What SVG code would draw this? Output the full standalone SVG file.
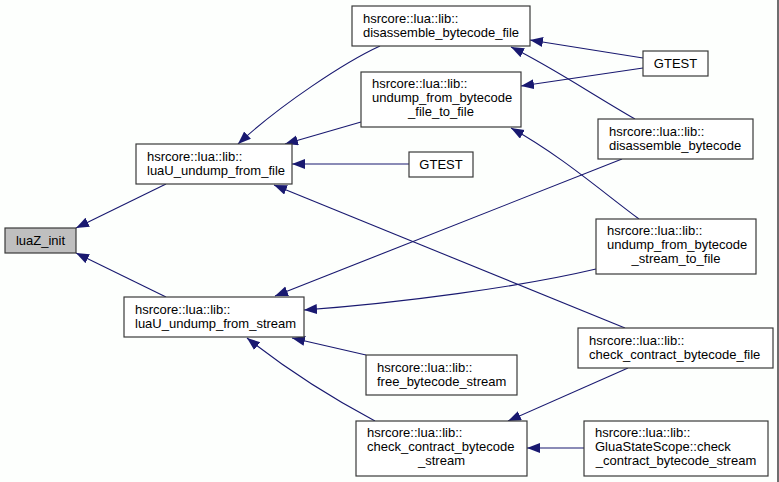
<svg xmlns="http://www.w3.org/2000/svg" width="779" height="482" viewBox="0 0 779 482">
<style>
.n rect{fill:#ffffff;stroke:#3a3a3a;stroke-width:1.2}
.n text{font-family:"Liberation Sans",Arial,sans-serif;font-size:13px;fill:#000}
.c{text-anchor:middle}
.e path{fill:none;stroke:#191970;stroke-width:1.1}
</style>
<defs>
<marker id="ah" markerUnits="userSpaceOnUse" markerWidth="14" markerHeight="11" refX="13" refY="5" orient="auto">
<path d="M0,0 L13,5 L0,10 z" fill="#191970"/>
</marker>
</defs>
<rect x="0" y="0" width="779" height="482" fill="#fdfffd"/>
<rect x="777" y="0" width="2" height="482" fill="#6e6e6e"/>
<g id="connectors" class="e">
<path marker-end="url(#ah)" d="M166,184 L76,228"/>
<path marker-end="url(#ah)" d="M166,297 L76,253"/>
<path marker-end="url(#ah)" d="M380,46 C345,62 280,105 238,144"/>
<path marker-end="url(#ah)" d="M361,122 L285,144"/>
<path marker-end="url(#ah)" d="M409,164 L292,164"/>
<path marker-end="url(#ah)" d="M625,328 L274,185"/>
<path marker-end="url(#ah)" d="M643,58 L530,40"/>
<path marker-end="url(#ah)" d="M643,68 L521,86"/>
<path marker-end="url(#ah)" d="M635,119 C590,93 550,66 511,47"/>
<path marker-end="url(#ah)" d="M639,219 C600,190 560,155 511,128"/>
<path marker-end="url(#ah)" d="M622,159 L275,296"/>
<path marker-end="url(#ah)" d="M596,269 C520,287 400,303 304,310"/>
<path marker-end="url(#ah)" d="M628,368 L508,421"/>
<path marker-end="url(#ah)" d="M366,355 L292,338"/>
<path marker-end="url(#ah)" d="M375,421 C330,397 290,372 247,338"/>
<path marker-end="url(#ah)" d="M584,448 L527,448"/>
</g>
<g id="luaZ_init" class="n">
<rect x="5" y="228" width="71" height="25" style="fill:#bfbfbf"/>
<text class="c" x="40.5" y="244.5">luaZ_init</text>
</g>
<g id="luaU_undump_from_file" class="n">
<rect x="136" y="144" width="156" height="40"/>
<text x="147" y="161">hsrcore::lua::lib::</text>
<text x="147" y="175">luaU_undump_from_file</text>
</g>
<g id="luaU_undump_from_stream" class="n">
<rect x="124" y="297" width="180" height="40"/>
<text x="135" y="314">hsrcore::lua::lib::</text>
<text x="135" y="328">luaU_undump_from_stream</text>
</g>
<g id="disassemble_bytecode_file" class="n">
<rect x="352" y="6" width="178" height="40"/>
<text x="363" y="23">hsrcore::lua::lib::</text>
<text x="363" y="37">disassemble_bytecode_file</text>
</g>
<g id="undump_from_bytecode_file_to_file" class="n">
<rect x="361" y="72" width="160" height="55"/>
<text x="372" y="88">hsrcore::lua::lib::</text>
<text x="372" y="102">undump_from_bytecode</text>
<text class="c" x="441" y="116">_file_to_file</text>
</g>
<g id="gtest_mid" class="n">
<rect x="409" y="152" width="64" height="25"/>
<text class="c" x="441" y="168.5">GTEST</text>
</g>
<g id="gtest_right" class="n">
<rect x="643" y="51" width="65" height="25"/>
<text class="c" x="675.5" y="67.5">GTEST</text>
</g>
<g id="disassemble_bytecode" class="n">
<rect x="598" y="119" width="155" height="40"/>
<text x="609" y="136">hsrcore::lua::lib::</text>
<text x="609" y="150">disassemble_bytecode</text>
</g>
<g id="undump_from_bytecode_stream_to_file" class="n">
<rect x="596" y="219" width="160" height="55"/>
<text x="607" y="235">hsrcore::lua::lib::</text>
<text x="607" y="249">undump_from_bytecode</text>
<text class="c" x="676" y="263">_stream_to_file</text>
</g>
<g id="check_contract_bytecode_file" class="n">
<rect x="578" y="328" width="195" height="40"/>
<text x="589" y="345">hsrcore::lua::lib::</text>
<text x="589" y="359">check_contract_bytecode_file</text>
</g>
<g id="free_bytecode_stream" class="n">
<rect x="366" y="355" width="151" height="40"/>
<text x="377" y="372">hsrcore::lua::lib::</text>
<text x="377" y="386">free_bytecode_stream</text>
</g>
<g id="check_contract_bytecode_stream" class="n">
<rect x="356" y="421" width="171" height="55"/>
<text x="367" y="437">hsrcore::lua::lib::</text>
<text x="367" y="451">check_contract_bytecode</text>
<text class="c" x="441.5" y="465">_stream</text>
</g>
<g id="gluastatescope_check_contract_bytecode_stream" class="n">
<rect x="584" y="421" width="184" height="55"/>
<text x="595" y="437">hsrcore::lua::lib::</text>
<text x="595" y="451">GluaStateScope::check</text>
<text class="c" x="676" y="465">_contract_bytecode_stream</text>
</g>
</svg>
